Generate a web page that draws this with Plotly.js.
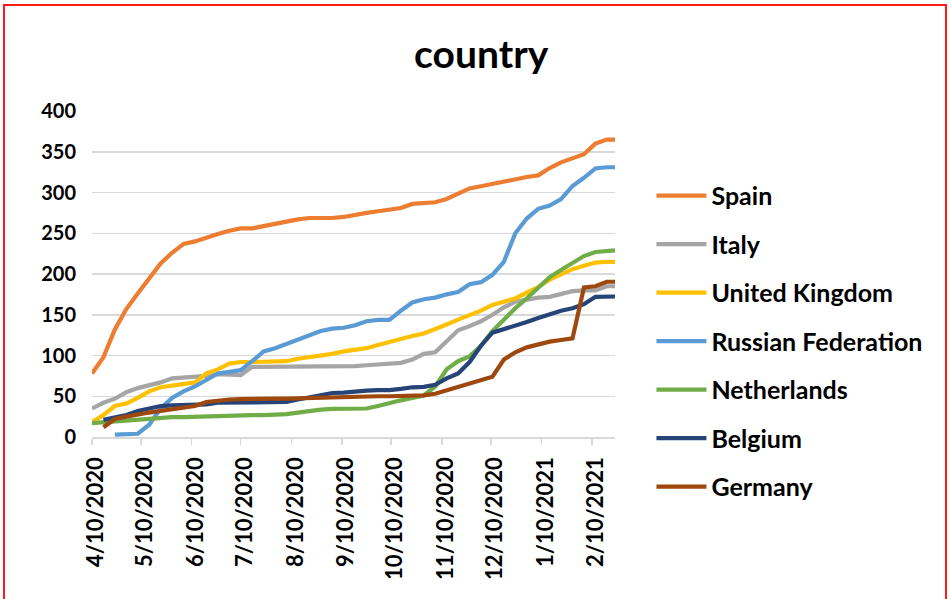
<!DOCTYPE html>
<html>
<head>
<meta charset="utf-8">
<script src="https://cdn.plot.ly/plotly-3.0.1.min.js"></script>
<style>
  html, body { margin: 0; padding: 0; background: #fff; }
  #chart { width: 951px; height: 599px; }
  #frame { position: absolute; left: 3px; top: 4px; width: 940px; height: 600px; border: 2px solid #ff1a1a; pointer-events: none; }
</style>
</head>
<body>
<div id="chart"></div>
<div id="frame"></div>
<script>
const dates = ["2020-04-10","2020-04-17","2020-04-24","2020-05-01","2020-05-08","2020-05-15","2020-05-22","2020-05-29",
  "2020-06-05","2020-06-12","2020-06-19","2020-06-26","2020-07-03","2020-07-10","2020-07-17","2020-07-24","2020-07-31",
  "2020-08-07","2020-08-14","2020-08-21","2020-08-28","2020-09-04","2020-09-11","2020-09-18","2020-09-25",
  "2020-10-02","2020-10-09","2020-10-16","2020-10-23","2020-10-30","2020-11-06","2020-11-13","2020-11-20","2020-11-27",
  "2020-12-04","2020-12-11","2020-12-18","2020-12-25","2021-01-01","2021-01-08","2021-01-15","2021-01-22","2021-01-29",
  "2021-02-05","2021-02-12","2021-02-19","2021-02-24"];

const spain = [78,98,132,157,176,194,213,226,237,240,245,249,253,256,256,259,262,264,267,268.7,268.7,268.7,270,273,275,
  277,279,281,286,287,288,292,299,305,307.6,310.5,314,317,319,321,330,337,342,347,360,365,365];
const italy = [35,42,47,55,60,63,67,72,73,73.5,75,77,76,76,86,86,86,86,86,86,86,86,86,87,88,89,90,91,95,102,104,118,131,
  136,142,150,159,166,169,171,172,175,179,180,180,185,185];
const uk = [18,27,38,41,48,56,61,63,64,67,78,83,90,92,92,92,93,93,96,98,99,102,105,107,109,113,117,120,124,127,132,138,
  144,149,155,162,166,170,177,184,193,199,206,210,214,215,215];
const russia = [null,null,3,3,4,15,35,48,56,62,70,78,80,82,93,105,109,114,120,124,130,133,134,137,142,143.6,143.6,155,
  165,169,171,175,178,187.5,190,199,215,250,268,280,284,292,308,318,329.5,331,331];
const netherlands = [17,18,19,20,21,23,24,24.3,24.5,25,26,26.5,26.8,26.8,26.8,26.8,26.8,28,30,32,33.5,34.5,34.7,34.7,35,
  38,42,45,48,51,62,83,93,99,112,130,144,158,170,183,196,205,214,222,227,228.5,229];
const belgium = [null,21,24,27,32,35,38,38.7,39,39,40,42,42,42,42,42,42,43,46,49,52,54,54.5,56,57,57.5,57.5,59,61,61.5,
  64,72,78,92,112,128,132,137,141,146,151,155,158,163,172,172.4,172.4];
const germany = [null,12,22,25,28,30,32,34,34.7,38,43,45,46,46.5,47,47,47,47,47.5,48,48,48,48.5,49,49.5,50,50,50,50,51,
  53,57,62,65,70,74,95,104,110,114,117,119,121,183.5,185,190.5,190.5];

const seriesNames = ["Spain","Italy","United Kingdom","Russian Federation","Netherlands","Belgium","Germany"];
const seriesValues = [spain, italy, uk, russia, netherlands, belgium, germany];
const seriesColors = ["#ED7D31","#A5A5A5","#FFC000","#5B9BD5","#70AD47","#264478","#9E480E"];

const tickDates = ["2020-04-10","2020-05-10","2020-06-10","2020-07-10","2020-08-10","2020-09-10","2020-10-10",
  "2020-11-10","2020-12-10","2021-01-10","2021-02-10"];
const tickLabels = ["4/10/2020","5/10/2020","6/10/2020","7/10/2020","8/10/2020","9/10/2020","10/10/2020",
  "11/10/2020","12/10/2020","1/10/2021","2/10/2021"];
const yTicks = [0,50,100,150,200,250,300,350,400];

const traces = seriesNames.map((name, i) => ({
  type: "scatter", mode: "lines", name: name, legendgroup: "g" + i,
  x: dates, y: seriesValues[i], connectgaps: false,
  line: { color: seriesColors[i], width: 4.2, shape: "linear" },
  hoverinfo: "x+y+name"
}));

const font = "Lato, 'Liberation Sans', Arial, sans-serif";
const layout = {
  width: 951, height: 599,
  paper_bgcolor: "#fff", plot_bgcolor: "#fff",
  margin: { l: 92, r: 336, t: 111, b: 162 },
  title: { text: "country", font: { family: font, size: 39, weight: "bold", color: "#000" },
           xref: "container", x: 0.506, yref: "container", y: 0.909, xanchor: "center", yanchor: "middle" },
  xaxis: {
    type: "date", range: ["2020-04-10", "2021-02-24"],
    tickmode: "array", tickvals: tickDates, ticktext: tickLabels, tickangle: -90,
    tickfont: { family: font, size: 22, weight: "bold", color: "#000" },
    showgrid: false, showline: true, linecolor: "#d9d9d9", linewidth: 1.5,
    ticks: "outside", ticklen: 6, tickwidth: 1.5, tickcolor: "#d9d9d9", zeroline: false,
    ticklabelstandoff: 4, ticklabelshift: 4
  },
  yaxis: {
    range: [0, 400], tickmode: "array", tickvals: yTicks,
    tickfont: { family: font, size: 20, weight: "bold", color: "#000" },
    showgrid: true, gridcolor: "#d9d9d9", gridwidth: 1.5, zeroline: false, showline: false,
    ticks: "", ticklabelstandoff: 15
  },
  legend: {
    xref: "container", yref: "container", x: 0.685, y: 0.7115, xanchor: "left", yanchor: "top",
    font: { family: font, size: 25, weight: "bold", color: "#000" },
    itemwidth: 50, tracegroupgap: 13, maxheight: 560, bgcolor: "rgba(0,0,0,0)"
  },
  showlegend: true
};

Plotly.newPlot("chart", traces, layout, { displayModeBar: false, staticPlot: true });
</script>
</body>
</html>
